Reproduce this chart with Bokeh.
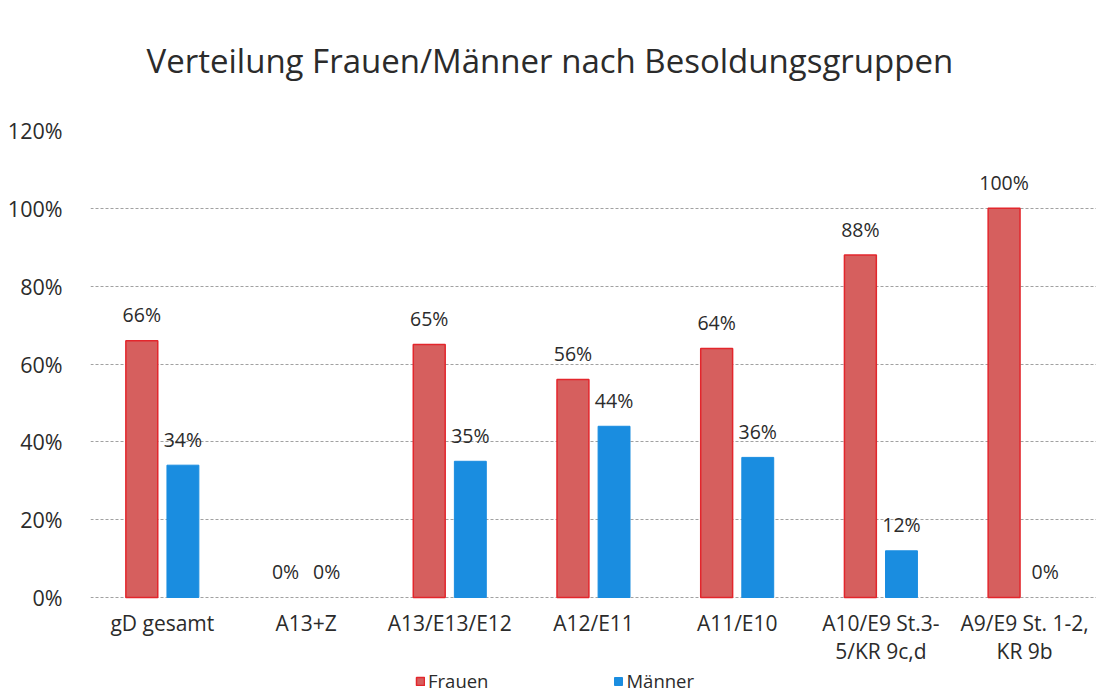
from bokeh.plotting import figure
from bokeh.models import (FactorRange, Range1d, Legend, LegendItem, Title,
                          NumeralTickFormatter, ColumnDataSource, FixedTicker)
from bokeh.transform import dodge
from bokeh.core.properties import value
from bokeh.embed import file_html
from bokeh.resources import INLINE

# ---- data ----
categories = ["gD gesamt", "A13+Z", "A13/E13/E12", "A12/E11", "A11/E10",
              "A10/E9 St.3-\n5/KR 9c,d", "A9/E9 St. 1-2,\nKR 9b"]
frauen = [0.66, 0.00, 0.65, 0.56, 0.64, 0.88, 1.00]
maenner = [0.34, 0.00, 0.35, 0.44, 0.36, 0.12, 0.00]
y_ticks = [0.0, 0.2, 0.4, 0.6, 0.8, 1.0, 1.2]
series_names = ["Frauen", "Männer"]
title_text = "Verteilung Frauen/Männer nach Besoldungsgruppen"

FONT = "Open Sans"
TXT = "#2b2b2b"
C_F = "#d65f5e"
C_F_LINE = "#e3262c"
C_M = "#1a8de0"

src = ColumnDataSource(dict(
    cat=categories,
    frauen=frauen,
    maenner=maenner,
    f_lbl=[f"{round(v * 100)}%" for v in frauen],
    m_lbl=[f"{round(v * 100)}%" for v in maenner],
    f_line_alpha=[1.0 if v > 0 else 0.0 for v in frauen],
    m_line_alpha=[1.0 if v > 0 else 0.0 for v in maenner],
))

# layout: frame top at 130 px, 0% line at 597 px, frame bottom at 693 px
W_PX, H_PX = 1096, 693
FRAME_LEFT, FRAME_TOP, ZERO_Y, FRAME_BOT = 90, 130, 597, 693
px_per_unit = (ZERO_Y - FRAME_TOP) / 1.2
y_start = -(FRAME_BOT - ZERO_Y) / px_per_unit

p = figure(
    width=W_PX, height=H_PX,
    x_range=FactorRange(factors=categories, range_padding=0),
    y_range=Range1d(y_start, 1.2),
    output_backend="svg", toolbar_location=None,
    min_border_left=FRAME_LEFT, min_border_right=0,
    min_border_top=FRAME_TOP, min_border_bottom=0,
)
p.outline_line_color = None
p.background_fill_color = "white"
p.border_fill_color = "white"

OFF = 0.143
W = 0.222
rf = p.vbar(x=dodge("cat", -OFF, range=p.x_range), top="frauen", bottom=0, width=W,
            source=src, fill_color=C_F, line_color=C_F_LINE, line_width=1.5,
            line_alpha="f_line_alpha")
rm = p.vbar(x=dodge("cat", OFF, range=p.x_range), top="maenner", bottom=0, width=W,
            source=src, fill_color=C_M, line_color=C_M, line_width=1,
            line_alpha="m_line_alpha")

lbl_kw = dict(text_align="center", text_baseline="alphabetic", y_offset=-26,
              text_font=value(FONT), text_font_size="19.5px", text_color=TXT)
p.text(x=dodge("cat", -OFF, range=p.x_range), y="frauen", text="f_lbl", source=src, **lbl_kw)
p.text(x=dodge("cat", OFF, range=p.x_range), y="maenner", text="m_lbl", source=src, **lbl_kw)

# axes
p.yaxis.ticker = FixedTicker(ticks=y_ticks)
p.yaxis.formatter = NumeralTickFormatter(format="0%")
p.yaxis.axis_line_color = None
p.yaxis.major_tick_line_color = None
p.yaxis.minor_tick_line_color = None
p.yaxis.major_label_standoff = 22
p.yaxis.major_label_text_font = FONT
p.yaxis.major_label_text_font_size = "21.5px"
p.yaxis.major_label_text_color = TXT

p.xaxis.fixed_location = 0
p.xaxis.axis_line_color = None
p.xaxis.major_tick_line_color = None
p.xaxis.minor_tick_line_color = None
p.xaxis.major_label_standoff = 5
p.xaxis.major_label_text_font = FONT
p.xaxis.major_label_text_font_size = "21px"
p.xaxis.major_label_text_color = TXT
p.xaxis.major_label_text_line_height = 1.0

p.xgrid.grid_line_color = None
p.ygrid.grid_line_color = "#8a8a8a"
p.ygrid.grid_line_dash = "3 2"
p.ygrid.grid_line_width = 1
p.ygrid.grid_line_alpha = 0.8

# titles (spacer closest to frame, then main title)
p.add_layout(Title(text=" ", text_font_size="2px", standoff=42), "above")
p.add_layout(Title(text=title_text, align="left", offset=56,
                   text_font=FONT, text_font_size="33px",
                   text_font_style="normal", text_color=TXT,
                   standoff=4), "above")

legend = Legend(
    items=[LegendItem(label=series_names[0], renderers=[rf]),
           LegendItem(label=series_names[1], renderers=[rm])],
    orientation="horizontal", location=(325, 0),
    padding=0, margin=0, spacing=125,
    glyph_width=10, glyph_height=10, label_standoff=3,
    label_text_font=FONT, label_text_font_size="18.5px", label_text_color=TXT,
    border_line_color=None, background_fill_alpha=0,
)
p.add_layout(legend, "center")

open("out.html", "w").write(file_html(p, INLINE))
